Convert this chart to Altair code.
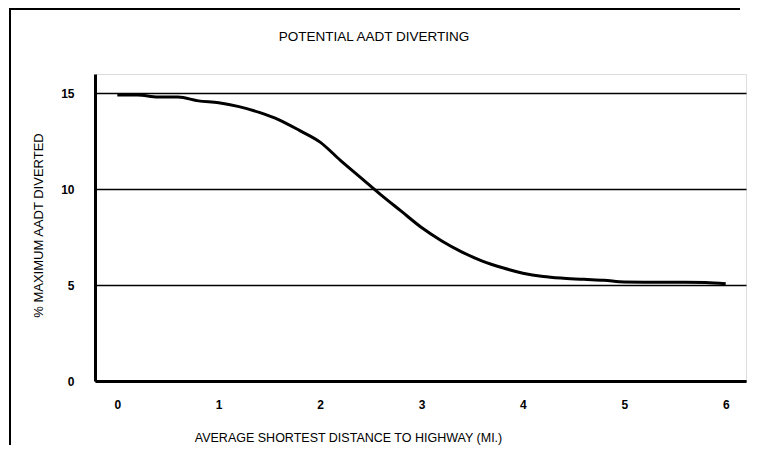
import altair as alt
import pandas as pd

dist = [0.0, 0.2, 0.4, 0.6, 0.8, 1.0, 1.2, 1.4, 1.6, 1.8, 2.0, 2.2, 2.4, 2.6, 2.8, 3.0,
        3.2, 3.4, 3.6, 3.8, 4.0, 4.2, 4.4, 4.6, 4.8, 5.0, 5.2, 5.4, 5.6, 5.8, 6.0]
pct = [14.9, 14.9, 14.8, 14.8, 14.6, 14.5, 14.3, 14.0, 13.6, 13.05, 12.45, 11.5, 10.6, 9.7,
       8.85, 8.0, 7.3, 6.72, 6.25, 5.9, 5.62, 5.45, 5.36, 5.3, 5.25, 5.16, 5.15, 5.15, 5.15,
       5.14, 5.07]
x_ticks = [0, 1, 2, 3, 4, 5, 6]
y_ticks = [0, 5, 10, 15]
chart_title = ["POTENTIAL AADT DIVERTING"]

df = pd.DataFrame({"dist": dist, "pct": pct})
FONT = "Liberation Sans"

line = alt.Chart(df).mark_line(color="black", strokeWidth=3, interpolate="monotone").encode(
    x=alt.X("dist:Q",
            scale=alt.Scale(domain=[-0.22, 6.2], nice=False, zero=False),
            axis=alt.Axis(values=x_ticks, title="AVERAGE SHORTEST DISTANCE TO HIGHWAY (MI.)",
                          grid=False, ticks=False, labelPadding=18, labelFontWeight="bold",
                          labelFontSize=12, labelFont=FONT, labelColor="black",
                          titleFont=FONT, titleFontSize=12.5, titleFontWeight="normal",
                          titleColor="black", titleX=253, titleY=56, titleBaseline="middle",
                          domainColor="black", domainWidth=3)),
    y=alt.Y("pct:Q",
            scale=alt.Scale(domain=[0, 16], nice=False),
            axis=alt.Axis(values=y_ticks, title="% MAXIMUM AADT DIVERTED",
                          grid=True, gridColor="black", gridWidth=1.5, gridOpacity=1,
                          ticks=False, labelPadding=21, labelFontWeight="bold",
                          labelFontSize=12, labelFont=FONT, labelColor="black",
                          titleFont=FONT, titleFontSize=13, titleFontWeight="normal",
                          titleColor="black", titleX=-57, titleY=151, titleBaseline="middle",
                          domainColor="black", domainWidth=3)),
)

one = pd.DataFrame({"t": chart_title})

# outer frame: top edge (horizontal) and left edge (vertical)
frame_top = alt.Chart(one).mark_rect(color="black").encode(
    x=alt.value(-86), x2=alt.value(645), y=alt.value(-66), y2=alt.value(-64))
frame_left = alt.Chart(one).mark_rect(color="black").encode(
    x=alt.value(-86), x2=alt.value(-84), y=alt.value(-66), y2=alt.value(372))

title = alt.Chart(one).mark_text(
    font=FONT, fontSize=13.5, color="black", align="center", baseline="middle"
).encode(text="t:N", x=alt.value(279), y=alt.value(-37))

chart = alt.layer(frame_top, frame_left, title, line).properties(
    width=651, height=307,
    autosize=alt.AutoSizeParams(type="none"),
    padding={"left": 87, "top": 66, "right": 4, "bottom": 64},
).configure_view(stroke="black", strokeWidth=2).configure(background="white")

chart.save("out.html", embed_options={"renderer": "svg", "actions": False})
